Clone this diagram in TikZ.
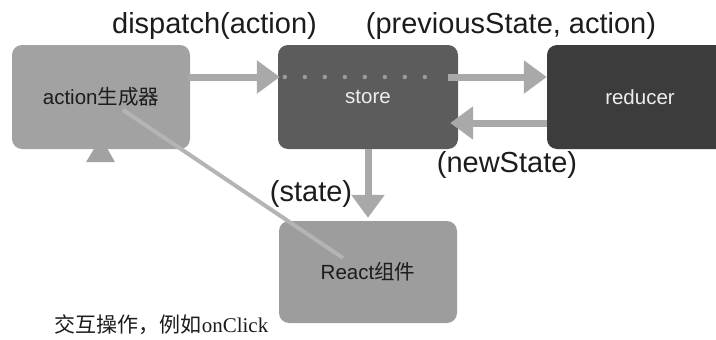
\documentclass[tikz,border=0pt]{standalone}
\usepackage{fontspec}
\setmainfont{Liberation Sans}
\newfontfamily\cjk{Noto Sans CJK SC}
\newfontfamily\serifrm{Liberation Serif}
\usetikzlibrary{arrows.meta,calc}

\definecolor{lightbox}{HTML}{A2A2A2}
\definecolor{reactbox}{HTML}{9D9D9D}
\definecolor{storebox}{HTML}{5C5C5C}
\definecolor{reducerbox}{HTML}{3C3C3C}
\definecolor{flowgray}{HTML}{A9A9A9}
\definecolor{linkgray}{HTML}{B4B4B4}
\definecolor{dotgray}{HTML}{9A9A9A}
\definecolor{darktext}{HTML}{1C1C1C}

\tikzset{
  box/.style={rounded corners=10pt, minimum width=178pt, minimum height=104pt,
    inner sep=0pt, font=\fontsize{20.5}{24}\selectfont},
  flow/.style={draw=flowgray, line width=7pt,
    -{Triangle[length=23pt,width=32pt]}},
  caption/.style={anchor=base, inner sep=0pt, text=darktext,
    font=\fontsize{29}{34}\selectfont},
}

\begin{document}
\begin{tikzpicture}[x=1pt, y=-1pt]
  \useasboundingbox (0,0) rectangle (716,340);
  \fill[white] (0,0) rectangle (716,340);

  % the four boxes
  \node[box, fill=lightbox, text=darktext] (action) at (101,97) {action{\cjk 生成器}};
  \node[box, fill=storebox, text=white!93!black, minimum width=180pt] (store) at (368,97) {store};
  \node[box, fill=reducerbox, text=white!93!black, minimum width=186pt] (reducer) at (640,97) {reducer};
  \node[box, fill=reactbox, text=darktext, minimum height=102pt] (react) at (368,272) {React{\cjk 组件}};

  % small marker under the action creator
  \fill[lightbox] ($(action.south)+(0,-12)$) -- ($(action.south)+(14,13)$)
    -- ($(action.south)+(-15,13)$) -- cycle;

  % interaction link from the component back to the action creator
  \draw[linkgray, line width=4pt] ($(react.center)+(-25,-14)$) -- ($(action.center)+(22,13)$);

  % dispatch(action) into the store
  \draw[flow] ($(action.east)+(-2,-20)$) -- ($(store.west)+(2,-20)$);
  % action passing through the store
  \draw[dotgray, line width=4.5pt, line cap=round, dash pattern=on 0pt off 20pt]
    ($(store.west)+(7,-20)$) -- ($(store.east)+(-16,-20)$);
  % (previousState, action) to the reducer
  \draw[flow] ($(store.east)+(-10,-20)$) -- (reducer.west |- 0,77);
  % (newState) back to the store
  \draw[flow] (reducer.west |- 0,123) -- ($(store.east)+(-8,26)$);
  % (state) down to the component
  \draw[flow] (store.south) -- ($(react.north)+(0,-3)$);

  % labels
  \node[caption] (lbldispatch) at (214.5,33) {dispatch(action)};
  \node[caption] (lblprev) at (511,33) {(previousState, action)};
  \node[caption] (lblnew) at (507,172) {(newState)};
  \node[caption] (lblstate) at (311,201) {(state)};
  \node[anchor=base, inner sep=0pt, text=darktext, font=\fontsize{21}{24}\selectfont]
    (lblclick) at (161.5,332) {{\cjk 交互操作，例如}{\serifrm onClick}};
\end{tikzpicture}
\end{document}
